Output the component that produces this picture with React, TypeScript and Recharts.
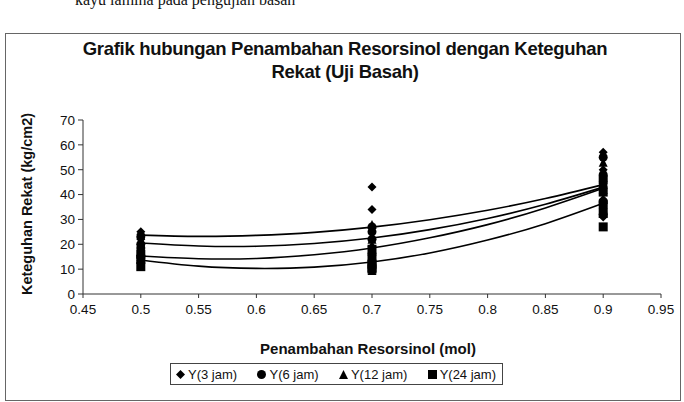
import React from "react"
import {
  ComposedChart,
  Scatter,
  Line,
  XAxis,
  YAxis,
} from "recharts"

// values
const xTicks = [0.45, 0.5, 0.55, 0.6, 0.65, 0.7, 0.75, 0.8, 0.85, 0.9, 0.95]
const yTicks = [0, 10, 20, 30, 40, 50, 60, 70]

const dosis = [0.5, 0.7, 0.9]
const y3jam = [[25, 24, 22], [43, 34, 19, 12], [57, 50, 44, 38, 31]]
const y6jam = [[23, 20, 18.5], [27, 25, 22, 16], [55, 48, 43, 37, 32]]
const y12jam = [[17, 15, 14], [28, 22, 18, 15, 9.5], [53, 47, 42, 38, 32.5]]
const y24jam = [[16, 14, 11], [18, 14, 12, 10, 10.5], [46, 41, 36, 32.5, 27]]

// polynomial trendlines (as drawn), read at each 0.05 step
const trendX = [0.5, 0.55, 0.6, 0.65, 0.7, 0.75, 0.8, 0.85, 0.9]
const trend3jam = [23.7, 23.2, 23.6, 24.8, 26.9, 29.9, 33.7, 38.4, 44.0]
const trend6jam = [20.5, 19.3, 19.2, 20.3, 22.5, 25.9, 30.4, 36.1, 43.0]
const trend12jam = [15.3, 14.2, 14.3, 15.8, 18.5, 22.6, 27.9, 34.6, 42.5]
const trend24jam = [13.7, 11.2, 10.3, 10.8, 12.9, 16.5, 21.7, 28.3, 36.5]

const seriesNames = ["Y(3 jam)", "Y(6 jam)", "Y(12 jam)", "Y(24 jam)"]
const seriesShapes = ["diamond", "circle", "triangle", "square"]

const toPoints = (groups: number[][]) =>
  groups.flatMap((vals, i) => vals.map((v) => ({ x: dosis[i], y: v })))

const toTrend = (vals: number[]) => vals.map((v, i) => ({ x: trendX[i], y: v }))

const Marker = ({ cx, cy, kind, s = 4.5 }: any) => {
  if (cx == null || cy == null) return null
  if (kind === "circle") return <circle cx={cx} cy={cy} r={s} fill="#000" />
  if (kind === "square")
    return <rect x={cx - s} y={cy - s} width={s * 2} height={s * 2} fill="#000" />
  if (kind === "triangle")
    return <polygon points={`${cx},${cy - s} ${cx + s},${cy + s} ${cx - s},${cy + s}`} fill="#000" />
  return (
    <polygon points={`${cx},${cy - s} ${cx + s},${cy} ${cx},${cy + s} ${cx - s},${cy}`} fill="#000" />
  )
}

const LegendBox = () => (
  <div
    style={{
      position: "absolute",
      left: 170,
      top: 363,
      width: 333,
      height: 22,
      boxSizing: "border-box",
      border: "1px solid #444",
      display: "flex",
      alignItems: "center",
      justifyContent: "space-between",
      padding: "0 6px 0 4px",
      fontSize: 13,
      color: "#111",
      background: "#fff",
    }}
  >
    {seriesNames.map((name, i) => (
      <span key={name} style={{ display: "flex", alignItems: "center", gap: 2 }}>
        <svg width={11} height={11}>
          <Marker cx={5.5} cy={5.5} kind={seriesShapes[i]} s={4.5} />
        </svg>
        {name}
      </span>
    ))}
  </div>
)

export default function App() {
  const scatterSets = [y3jam, y6jam, y12jam, y24jam].map(toPoints)
  const trendSets = [trend3jam, trend6jam, trend12jam, trend24jam].map(toTrend)

  return (
    <div
      style={{
        position: "absolute",
        left: 0,
        top: 0,
        width: 684,
        height: 402,
        background: "#fff",
        overflow: "hidden",
        fontFamily: "'Liberation Sans', Arial, sans-serif",
      }}
    >
      <div
        style={{
          position: "absolute",
          left: 75,
          top: -9,
          fontFamily: "'Liberation Serif', 'Times New Roman', serif",
          fontSize: 16,
          color: "#111",
          whiteSpace: "nowrap",
        }}
      >
        kayu lamina pada pengujian basah
      </div>
      <div
        style={{
          position: "absolute",
          left: 5,
          top: 33,
          width: 674,
          height: 366,
          border: "1px solid #666",
        }}
      />
      <div
        style={{
          position: "absolute",
          left: 0,
          top: 37,
          width: 690,
          textAlign: "center",
          fontWeight: "bold",
          fontSize: 18.5,
          lineHeight: "23px",
          color: "#111",
          letterSpacing: -0.3,
        }}
      >
        Grafik hubungan Penambahan Resorsinol dengan Keteguhan
        <br />
        Rekat (Uji Basah)
      </div>
      <div
        style={{
          position: "absolute",
          left: 27,
          top: 204,
          transform: "translate(-50%, -50%) rotate(-90deg)",
          fontWeight: "bold",
          fontSize: 14.5,
          whiteSpace: "nowrap",
          color: "#111",
        }}
      >
        Keteguhan Rekat (kg/cm2)
      </div>
      <div
        style={{
          position: "absolute",
          left: 368,
          top: 348,
          transform: "translate(-50%, -50%)",
          fontWeight: "bold",
          fontSize: 15,
          whiteSpace: "nowrap",
          color: "#111",
        }}
      >
        Penambahan Resorsinol (mol)
      </div>

      <div style={{ position: "absolute", left: 0, top: 0 }}>
        <ComposedChart
          width={684}
          height={402}
          margin={{ top: 120, right: 23, bottom: 88, left: 53 }}
        >
          <XAxis
            type="number"
            dataKey="x"
            domain={[0.45, 0.95]}
            ticks={xTicks}
            interval={0}
            allowDataOverflow
            height={20}
            tickSize={4}
            tickMargin={6}
            stroke="#333"
            tick={{ fill: "#111", fontSize: 13.5 }}
          />
          <YAxis
            type="number"
            dataKey="y"
            domain={[0, 70]}
            ticks={yTicks}
            interval={0}
            width={30}
            tickSize={5}
            tickMargin={3}
            stroke="#333"
            tick={{ fill: "#111", fontSize: 13.5 }}
          />
          {trendSets.map((data, i) => (
            <Line
              key={`trend-${i}`}
              data={data}
              dataKey="y"
              type="natural"
              stroke="#000"
              strokeWidth={1.6}
              dot={false}
              activeDot={false}
              legendType="none"
              isAnimationActive={false}
            />
          ))}
          {scatterSets.map((data, i) => (
            <Scatter
              key={seriesNames[i]}
              name={seriesNames[i]}
              data={data}
              fill="#000"
              shape={(p: any) => <Marker cx={p.cx} cy={p.cy} kind={seriesShapes[i]} />}
              isAnimationActive={false}
            />
          ))}
        </ComposedChart>
      </div>
      <LegendBox />
    </div>
  )
}
